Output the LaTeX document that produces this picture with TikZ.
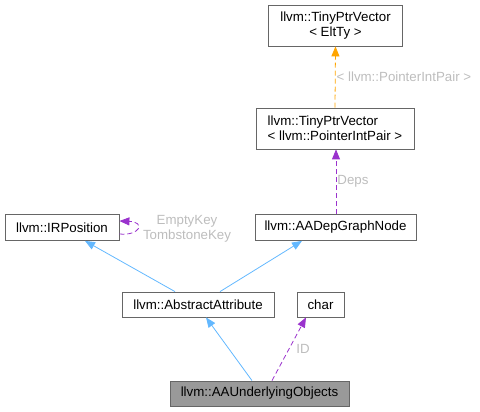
\documentclass[tikz,border=0pt]{standalone}
\usepackage{fontspec}
\setmainfont{Liberation Sans}
\usetikzlibrary{arrows.meta, calc}
\definecolor{cblue}{HTML}{63B8FF}
\definecolor{cpurple}{HTML}{9A32CD}
\definecolor{corange}{HTML}{FFA500}
\definecolor{cgrey}{HTML}{666666}
\definecolor{clabel}{HTML}{BDBDBD}
\tikzset{
  every picture/.style={font=\fontsize{13.3}{15}\selectfont, line width=0.8pt, x=1pt, y=-1pt},
  cls/.style={draw=cgrey, fill=white, align=center, inner sep=0pt, minimum height=#1},
  cls/.default=26pt,
  inherit/.style={-{Triangle[length=10pt, width=8pt]}, draw=cblue},
  member/.style={-{Triangle[length=10pt, width=8pt]}, draw=cpurple, dashed, dash pattern=on 5pt off 3pt},
  tmpl/.style={-{Triangle[length=10pt, width=8pt]}, draw=corange, dashed, dash pattern=on 5pt off 3pt},
  lbl/.style={text=clabel, inner sep=1pt},
}

\begin{document}
\begin{tikzpicture}
  \useasboundingbox (0,0) rectangle (480,412);
  % classes
  \node[cls=41pt, minimum width=134pt] (eltty) at (335.5,25.5) {llvm::TinyPtrVector\\< EltTy >};
  \node[cls=41pt, minimum width=158pt, align=left] (pip) at (335,128.5) {llvm::TinyPtrVector\\< llvm::PointerIntPair >};
  \node[cls, minimum width=114pt] (irpos) at (62,227.5) {llvm::IRPosition};
  \node[cls, minimum width=161pt] (depnode) at (335.5,227.5) {llvm::AADepGraphNode};
  \node[cls=25pt, minimum width=152pt] (absattr) at (198,304.5) {llvm::AbstractAttribute};
  \node[cls=25pt, minimum width=47pt] (charn) at (320.5,304.5) {char};
  \node[cls=25pt, minimum width=179pt, fill=black!40] (aauo) at (259.5,393.5) {llvm::AAUnderlyingObjects};
  % inheritance
  \draw[inherit] ([xshift=-23pt]absattr.north) -- ([xshift=23pt]irpos.south);
  \draw[inherit] ([xshift=22pt]absattr.north) -- ([xshift=-33.5pt]depnode.south);
  \draw[inherit] ([xshift=-7.5pt]aauo.north) -- ([xshift=8pt]absattr.north |- absattr.south);
  % members
  \draw[member] ([xshift=12.5pt]aauo.north) -- node[lbl, pos=0.5, right, xshift=6pt] {ID} ([xshift=-14.5pt]charn.south);
  \draw[member] ([xshift=0.5pt]depnode.north) -- node[lbl, pos=0.5, right] {Deps} ([xshift=1pt]pip.south);
  \draw[member] ([yshift=-6.5pt]irpos.east) .. controls (140,236) and (146,222) .. ([yshift=6.5pt]irpos.east);
  \node[lbl, align=center] (keys) at (187,229) {EmptyKey\\TombstoneKey};
  % template
  \draw[tmpl] (pip.north) -- node[lbl, pos=0.5, right] {< llvm::PointerIntPair >} (eltty.south);
\end{tikzpicture}
\end{document}
